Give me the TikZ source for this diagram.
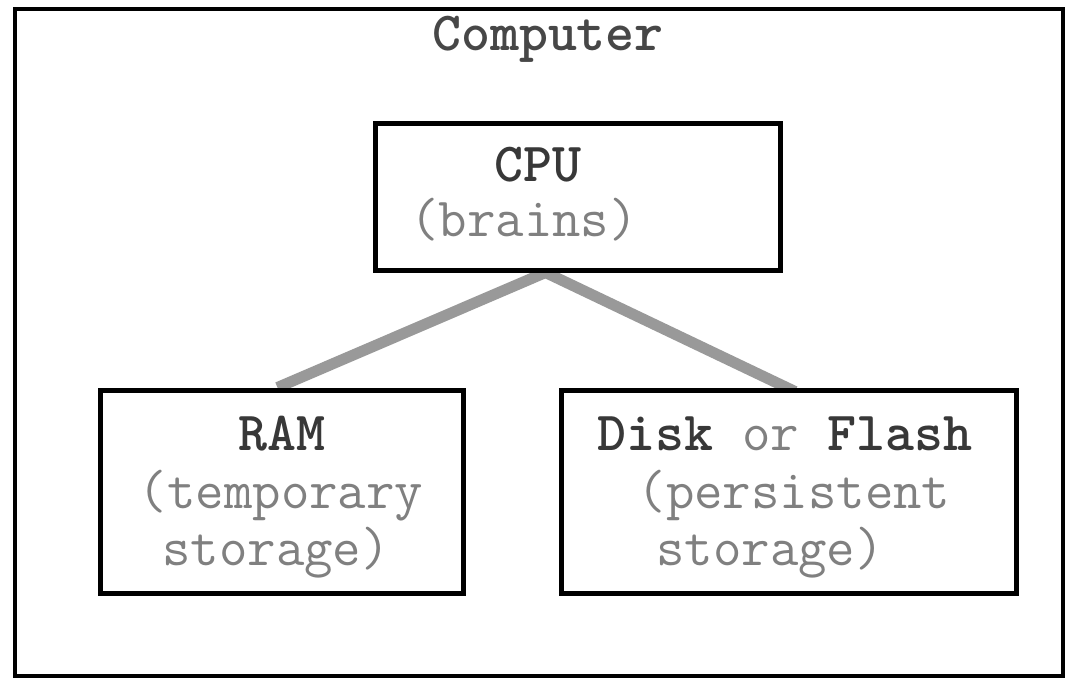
\documentclass[tikz,border=0pt]{standalone}
\usepackage{fontspec}
\usetikzlibrary{fit,backgrounds}
\begin{document}
\begin{tikzpicture}[x=0.5pt,y=-0.5pt,
  frame/.style={draw=black,line width=2pt},
  unit/.style={draw=black,line width=2.5pt,inner sep=0pt,fill=white},
  boldlbl/.style={anchor=base,text=black!78,font=\fontsize{27.6}{28.5}\selectfont\ttfamily\bfseries,inner sep=0pt},
  plainlbl/.style={anchor=base,text=black!50,font=\fontsize{27.6}{28.5}\selectfont\ttfamily,inner sep=0pt},
  bus/.style={draw=black!40,line width=5.5pt}]
\useasboundingbox (0,0) rectangle (1066,681);
% title
\node[boldlbl,text=black!72] (title) at (548,50) {Computer};
% boxes
\coordinate (cpuA) at (375,123); \coordinate (cpuB) at (780,270);
\coordinate (ramA) at (100,390); \coordinate (ramB) at (463,593);
\coordinate (dskA) at (561,390); \coordinate (dskB) at (1016,593);
\node[unit,fit=(cpuA)(cpuB)] (cpu) {};
\node[unit,fit=(ramA)(ramB)] (ram) {};
\node[unit,fit=(dskA)(dskB)] (dsk) {};
% frame and connectors
\begin{scope}[on background layer]
\fill[white] (0,0) rectangle (1066,681);
\draw[frame] (15,9) rectangle (1063,676);
\draw[bus] ([xshift=-16pt]cpu.south) -- ([xshift=-2pt]ram.north);
\draw[bus] ([xshift=-16pt]cpu.south) -- ([xshift=3.25pt,yshift=-2pt]dsk.north);
\end{scope}
% texts
\node[boldlbl] (cpuT) at (538,181) {CPU};
\node[plainlbl] (cpuS) at (524,236) {(brains)};
\node[boldlbl] (ramT) at (282,450) {RAM};
\node[plainlbl] (ramS) at (281,508) {(temporary};
\node[plainlbl] (ramU) at (276,565) {storage)};
\node[anchor=base,inner sep=0pt,font=\fontsize{27.6}{28.5}\selectfont\ttfamily] (dskT) at (785,450)
  {\textcolor{black!78}{\bfseries Disk} \textcolor{black!50}{or} \textcolor{black!78}{\bfseries Flash}};
\node[plainlbl] (dskS) at (794,508) {(persistent};
\node[plainlbl] (dskU) at (770,565) {storage)};
\end{tikzpicture}
\end{document}
